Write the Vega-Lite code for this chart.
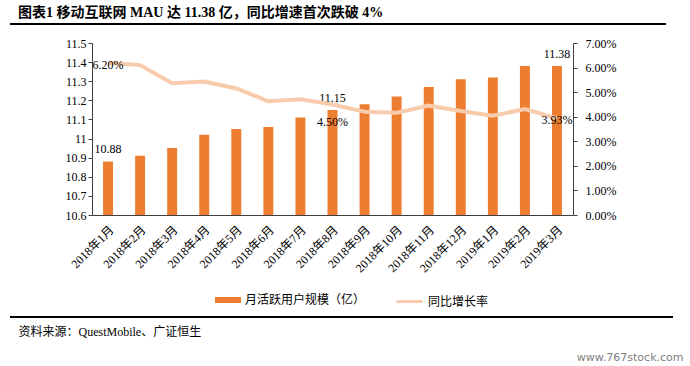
{
  "$schema": "https://vega.github.io/schema/vega-lite/v6.json",
  "autosize": {"type": "none"},
  "width": 481,
  "height": 172,
  "padding": {"left": 92, "top": 43, "right": 117, "bottom": 151},
  "background": "white",
  "title": {
    "text": "图表1 移动互联网 MAU 达 11.38 亿，同比增速首次跌破 4%",
    "anchor": "start",
    "frame": "group",
    "dx": -74,
    "offset": 3,
    "font": "Liberation Serif, Noto Sans CJK SC",
    "fontSize": 14,
    "fontWeight": "bold",
    "color": "#000000"
  },
  "data": {
    "values": [
      {"month": "2018年1月", "mau": 10.88, "yoy": 0.062},
      {"month": "2018年2月", "mau": 10.91, "yoy": 0.061},
      {"month": "2018年3月", "mau": 10.95, "yoy": 0.0536},
      {"month": "2018年4月", "mau": 11.02, "yoy": 0.0543},
      {"month": "2018年5月", "mau": 11.05, "yoy": 0.0515},
      {"month": "2018年6月", "mau": 11.06, "yoy": 0.0463},
      {"month": "2018年7月", "mau": 11.11, "yoy": 0.0471},
      {"month": "2018年8月", "mau": 11.15, "yoy": 0.045},
      {"month": "2018年9月", "mau": 11.18, "yoy": 0.042},
      {"month": "2018年10月", "mau": 11.22, "yoy": 0.0416},
      {"month": "2018年11月", "mau": 11.27, "yoy": 0.0445},
      {"month": "2018年12月", "mau": 11.31, "yoy": 0.0423},
      {"month": "2019年1月", "mau": 11.32, "yoy": 0.0404},
      {"month": "2019年2月", "mau": 11.38, "yoy": 0.0431},
      {"month": "2019年3月", "mau": 11.38, "yoy": 0.0393}
    ]
  },
  "encoding": {
    "x": {
      "field": "month",
      "type": "nominal",
      "sort": null,
      "scale": {"paddingInner": 0, "paddingOuter": 0},
      "axis": {
        "labelAngle": -45,
        "labelOverlap": false,
        "ticks": false,
        "domainColor": "#404040",
        "domainWidth": 1,
        "labelFont": "Liberation Serif, Noto Sans CJK SC",
        "labelFontSize": 12,
        "labelColor": "#000000",
        "labelPadding": 9,
        "title": "资料来源：QuestMobile、广证恒生",
        "titleX": -74,
        "titleY": 116,
        "titleAlign": "left",
        "titleAnchor": null,
        "titleBaseline": "middle",
        "titleFont": "Liberation Serif, Noto Sans CJK SC",
        "titleFontSize": 12,
        "titleFontWeight": "normal",
        "titleColor": "#000000"
      }
    }
  },
  "layer": [
    {
      "encoding": {
        "y": {
          "field": "mau",
          "type": "quantitative",
          "scale": {"domain": [10.6, 11.5], "zero": false, "nice": false},
          "axis": {
            "orient": "left",
            "values": [10.6, 10.7, 10.8, 10.9, 11, 11.1, 11.2, 11.3, 11.4, 11.5],
            "format": "~f",
            "labelOverlap": false,
            "grid": false,
            "tickSize": 4,
            "tickColor": "#404040",
            "domainColor": "#404040",
            "labelPadding": 2,
            "labelFont": "Liberation Serif",
            "labelFontSize": 12,
            "labelColor": "#000000",
            "title": null
          }
        }
      },
      "layer": [
        {
          "mark": {"type": "bar", "width": {"band": 0.31}, "clip": true},
          "encoding": {
            "color": {
              "datum": "月活跃用户规模（亿）",
              "scale": {"range": ["#ED7D31"]},
              "legend": {
                "orient": "none",
                "legendX": 123,
                "legendY": 244,
                "padding": 0,
                "title": null,
                "symbolType": "M-1,-0.23H1V0.23H-1Z",
                "symbolSize": 676,
                "symbolOpacity": 1,
                "symbolStrokeWidth": 0,
                "labelFont": "Noto Sans CJK SC",
                "labelFontSize": 12,
                "labelColor": "#000000",
                "labelOffset": 4
              }
            }
          }
        },
        {
          "transform": [{"filter": "datum.month === '2018年1月' || datum.month === '2018年8月' || datum.month === '2019年3月'"}],
          "mark": {"type": "text", "baseline": "middle", "align": "center", "dy": -12, "font": "Liberation Serif", "fontSize": 12, "color": "#000000"},
          "encoding": {
            "text": {"field": "mau", "type": "quantitative", "format": ".2f"}
          }
        }
      ]
    },
    {
      "encoding": {
        "y": {
          "field": "yoy",
          "type": "quantitative",
          "scale": {"domain": [0, 0.07], "nice": false},
          "axis": {
            "orient": "right",
            "values": [0, 0.01, 0.02, 0.03, 0.04, 0.05, 0.06, 0.07],
            "format": ".2%",
            "labelOverlap": false,
            "grid": false,
            "tickSize": 4,
            "tickColor": "#404040",
            "domainColor": "#404040",
            "labelPadding": 8,
            "labelFont": "Liberation Serif",
            "labelFontSize": 12,
            "labelColor": "#000000",
            "title": "www.767stock.com",
            "titleAngle": 0,
            "titleX": 110,
            "titleY": 314,
            "titleAlign": "right",
            "titleBaseline": "middle",
            "titleFont": "DejaVu Sans",
            "titleFontSize": 11,
            "titleFontWeight": "normal",
            "titleColor": "#808080"
          }
        }
      },
      "layer": [
        {
          "mark": {"type": "line", "strokeWidth": 4},
          "encoding": {
            "color": {
              "datum": "同比增长率",
              "scale": {"range": ["#F8CBAD"]},
              "legend": {
                "orient": "none",
                "legendX": 303,
                "legendY": 244,
                "padding": 0,
                "title": null,
                "symbolType": "stroke",
                "symbolSize": 676,
                "symbolStrokeWidth": 3,
                "labelFont": "Noto Sans CJK SC",
                "labelFontSize": 12,
                "labelColor": "#000000",
                "labelOffset": 4
              }
            }
          }
        },
        {
          "transform": [{"filter": "datum.month === '2018年1月' || datum.month === '2019年3月'"}],
          "mark": {"type": "text", "baseline": "middle", "align": "center", "dy": 2, "font": "Liberation Serif", "fontSize": 12, "color": "#000000"},
          "encoding": {
            "text": {"field": "yoy", "type": "quantitative", "format": ".2%"}
          }
        },
        {
          "transform": [{"filter": "datum.month === '2018年8月'"}],
          "mark": {"type": "text", "baseline": "middle", "align": "center", "dy": 18, "font": "Liberation Serif", "fontSize": 12, "color": "#000000"},
          "encoding": {
            "text": {"field": "yoy", "type": "quantitative", "format": ".2%"}
          }
        }
      ]
    },
    {
      "data": {"values": [{}]},
      "mark": {"type": "rule", "strokeWidth": 2, "color": "#000000"},
      "encoding": {"x": {"value": -82}, "x2": {"value": 574}, "y": {"value": -19}}
    },
    {
      "data": {"values": [{}]},
      "mark": {"type": "rule", "strokeWidth": 2, "color": "#000000"},
      "encoding": {"x": {"value": -82}, "x2": {"value": 581}, "y": {"value": 274}}
    }
  ],
  "resolve": {"scale": {"y": "independent", "color": "independent"}},
  "config": {
    "view": {"stroke": null},
    "axis": {"grid": false}
  }
}
